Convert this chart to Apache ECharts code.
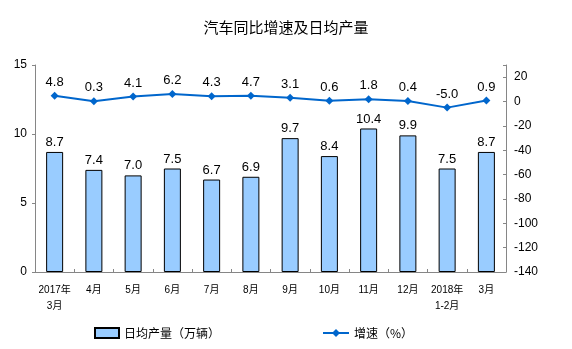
<!DOCTYPE html>
<html><head><meta charset="utf-8">
<script src="https://cdn.jsdelivr.net/npm/echarts@6/dist/echarts.min.js"></script>
<style>html,body{margin:0;padding:0;background:#fff}#c{width:572px;height:349px}</style>
</head><body><div id="c"></div>
<script>
const categories = ['2017年\n3月','4月','5月','6月','7月','8月','9月','10月','11月','12月','2018年\n1-2月','3月'];
const dailyOutput = [8.7,7.4,7.0,7.5,6.7,6.9,9.7,8.4,10.4,9.9,7.5,8.7];
const growth = [4.8,0.3,4.1,6.2,4.3,4.7,3.1,0.6,1.8,0.4,-5.0,0.9];
const leftTicks = [0,5,10,15];
const rightTicks = [-140,-120,-100,-80,-60,-40,-20,0,20];

const font = '"Liberation Sans", Arial, "Noto Sans CJK SC", sans-serif';
const chart = echarts.init(document.getElementById('c'));
chart.setOption({
  animation:false,
  textStyle:{fontFamily:font},
  title:{text:'汽车同比增速及日均产量',left:'center',top:15,
    textStyle:{fontSize:15,fontWeight:'normal',color:'#000',fontFamily:'"Noto Sans CJK SC", sans-serif'}},
  grid:{left:35,right:66,top:65,bottom:77},
  legend:[
    {data:[{name:'日均产量（万辆）',icon:'rect'}],left:89,top:322,itemWidth:24,itemHeight:10,
      textStyle:{fontSize:12,color:'#000',fontFamily:'"Noto Sans CJK SC", sans-serif'}},
    {data:[{name:'增速（%）'}],left:317,top:322,itemWidth:26,itemHeight:10,
      textStyle:{fontSize:12,color:'#000',fontFamily:'"Noto Sans CJK SC", sans-serif'}}
  ],
  xAxis:{type:'category',data:categories,
    axisLine:{lineStyle:{color:'#868686'}},
    axisTick:{show:true,inside:true,length:3,lineStyle:{color:'#868686'}},
    axisLabel:{interval:0,fontSize:10,color:'#000',margin:10,lineHeight:16,fontFamily:font}},
  yAxis:[
    {type:'value',min:0,max:15,interval:5,
      axisLine:{show:true,lineStyle:{color:'#868686'}},
      axisTick:{show:true,length:3,lineStyle:{color:'#868686'}},
      splitLine:{show:false},
      axisLabel:{fontSize:12,color:'#000',margin:8,
        formatter:v=>leftTicks.includes(v)?String(v):''}},
    {type:'value',min:-140,max:30,interval:20,position:'right',
      axisLine:{show:true,lineStyle:{color:'#868686'}},
      axisTick:{show:true,inside:true,length:3,lineStyle:{color:'#868686'}},
      splitLine:{show:false},
      axisLabel:{fontSize:12,color:'#000',margin:8,
        formatter:v=>rightTicks.includes(v)?String(v):''}}
  ],
  series:[
    {name:'日均产量（万辆）',type:'bar',data:dailyOutput,barWidth:17,yAxisIndex:0,
      itemStyle:{color:'#99CCFF',borderColor:'#000',borderWidth:1},
      label:{show:true,position:'top',fontSize:13,color:'#000',distance:3,
        formatter:p=>p.value.toFixed(1)}},
    {name:'增速（%）',type:'line',data:growth,yAxisIndex:1,
      symbol:'diamond',symbolSize:8,
      lineStyle:{color:'#0066CC',width:2},itemStyle:{color:'#0066CC'},
      label:{show:true,position:'top',fontSize:13,color:'#000',distance:3,
        formatter:p=>p.value.toFixed(1)}}
  ]
});
</script></body></html>
